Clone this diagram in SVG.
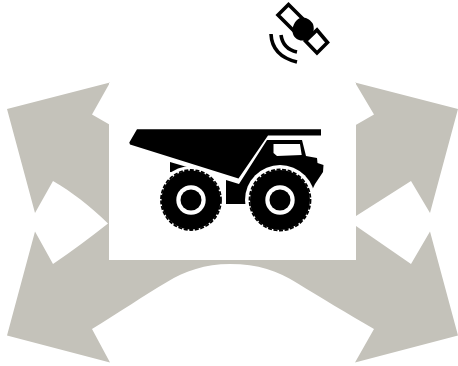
<svg xmlns="http://www.w3.org/2000/svg" width="458" height="366" viewBox="0 0 458 366">
<defs><style>
.g{fill:#c4c2ba}.k{fill:#000}.w{fill:#fff}
.t{fill:none;stroke:#000;stroke-width:1.8;stroke-dasharray:4 1.6}
.wv{fill:none;stroke:#000;stroke-width:3.6}
.p{fill:#fff;stroke:#000;stroke-width:3.6}
</style></defs>
<rect width="458" height="366" fill="#fff"/>
<g id="connectors">
<path class="g" d="M7 109L110 82.500L92 114.500L112 126H230V264C205 264 185 271 167 282C145 295 118 313 92 329L110 362.500L7 335.500L35 231.500L53 264C72 251 90 238 108 223.500C90 206 72 192 53 181L35 213Z"/>
<path class="g" d="M458 109L355 82.500L374 114.500L354 126H230V264C258 264 278 271 297 283C320 297 348 314 374 329L355 362.500L458 335.500L430 231.500L411 264L356 226V216L411 181L430 213Z"/>
</g>
<g id="truck">
<rect class="w" x="109" y="83" width="247" height="177"/>
<path class="k" d="M137 129.300H321V135.600H268L238.500 178.500L130 144.500L129.300 142.500Z"/>
<path class="k" d="M170 162L187 167L200 175L170 172Z"/>
<path class="k" d="M226 180L239 184L267 140H302L306 156L317 158L317.500 163L323.500 165L323 172L315 184L300 215H250L247 204H226Z"/>
<path class="w" d="M273.500 144H300L301.700 155L277 156L273.500 153Z"/>
<circle class="w" cx="191" cy="200" r="34"/>
<circle class="w" cx="280" cy="200" r="35"/>
<circle class="k" cx="191" cy="200" r="29.500"/>
<circle class="t" cx="191" cy="200" r="30"/>
<circle class="k" cx="280" cy="200" r="30"/>
<circle class="t" cx="280" cy="200" r="30.500"/>
<circle class="w" cx="191" cy="200" r="14.700"/>
<circle class="k" cx="191" cy="200" r="10.500"/>
<circle class="w" cx="280" cy="200" r="14.700"/>
<circle class="k" cx="280" cy="200" r="10.500"/>
</g>
<g id="satellite">
<path class="p" d="M278 15L288.500 4.500L307 23L296.500 33.500Z"/>
<path class="p" d="M305.500 41L317 30L327.500 42.500L317 53Z"/>
<path class="k" d="M300 18C305 16 311 20 313 24C315 30 313 36 308 38C303 43 295 40 293 34C291 28 295 20 300 18Z"/>
<path class="wv" d="M271 34Q272 56 297 62"/>
<path class="wv" d="M281 35Q283 49 297 52"/>
</g>
</svg>
